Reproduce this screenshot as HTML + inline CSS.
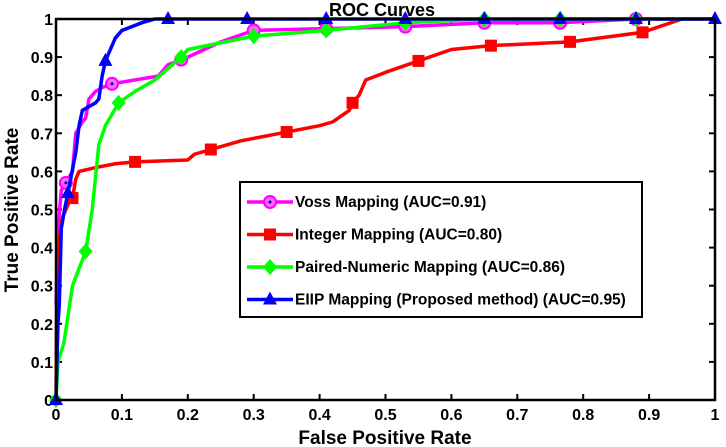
<!DOCTYPE html>
<html><head><meta charset="utf-8"><style>
body{margin:0;background:#fff;}
svg{display:block;font-family:"Liberation Sans",Arial,sans-serif;font-weight:bold;}
</style></head><body>
<svg id="chart" width="726" height="447" viewBox="0 0 726 447"></svg>
<script>
const xTicks=[0,0.1,0.2,0.3,0.4,0.5,0.6,0.7,0.8,0.9,1];
const yTicks=[0,0.1,0.2,0.3,0.4,0.5,0.6,0.7,0.8,0.9,1];
const tickLabels=["0","0.1","0.2","0.3","0.4","0.5","0.6","0.7","0.8","0.9","1"];
const vossX=[0,0.003,0.008,0.015,0.025,0.03,0.04,0.045,0.05,0.06,0.07,0.085,0.12,0.155,0.17,0.2,0.25,0.3,0.53,0.65,0.765,0.88,1];
const vossY=[0.25,0.45,0.55,0.57,0.6,0.7,0.73,0.74,0.79,0.81,0.82,0.83,0.84,0.85,0.88,0.9,0.94,0.97,0.98,0.99,0.99,1,1];
const vossM=[0.015,0.085,0.19,0.3,0.41,0.53,0.65,0.765,0.88];
const intX=[0,0.001,0.003,0.01,0.02,0.025,0.03,0.035,0.06,0.09,0.12,0.2,0.21,0.24,0.28,0.34,0.4,0.42,0.445,0.45,0.46,0.47,0.5,0.55,0.6,0.66,0.78,0.89,0.95,1];
const intY=[0,0.25,0.4,0.48,0.52,0.53,0.58,0.6,0.61,0.62,0.625,0.63,0.645,0.66,0.68,0.7,0.72,0.73,0.76,0.78,0.8,0.84,0.86,0.89,0.92,0.93,0.94,0.965,1,1];
const intM=[0.025,0.12,0.235,0.35,0.45,0.55,0.66,0.78,0.89];
const pnX=[0,0.003,0.012,0.025,0.045,0.055,0.065,0.075,0.095,0.12,0.15,0.17,0.19,0.2,0.3,0.41,0.53,0.65,1];
const pnY=[0,0.1,0.15,0.3,0.39,0.5,0.67,0.72,0.78,0.81,0.84,0.87,0.9,0.92,0.955,0.97,0.99,1,1];
const pnM=[0,0.045,0.095,0.19,0.3,0.41,0.53,0.65,0.765,0.88];
const eiX=[0,0.003,0.005,0.008,0.013,0.02,0.03,0.035,0.04,0.06,0.065,0.07,0.075,0.09,0.1,0.13,0.15,1];
const eiY=[0,0.2,0.25,0.45,0.5,0.56,0.65,0.72,0.76,0.78,0.79,0.85,0.89,0.95,0.97,0.99,1,1];
const eiM=[0,0.018,0.075,0.17,0.29,0.41,0.53,0.65,0.765,0.88,1];

const X0=56,X1=715,Y0=400,Y1=19;
const sx=v=>X0+(X1-X0)*v, sy=v=>Y0-(Y0-Y1)*v;
const svg=document.getElementById('chart');
const NS='http://www.w3.org/2000/svg';
function mk(t,a,p){const e=document.createElementNS(NS,t);for(const k in a)e.setAttribute(k,a[k]);(p||svg).appendChild(e);return e;}
function interp(xs,ys,x){for(let i=1;i<xs.length;i++){if(x<=xs[i]){const t=(x-xs[i-1])/((xs[i]-xs[i-1])||1);return ys[i-1]+t*(ys[i]-ys[i-1]);}}return ys[ys.length-1];}

xTicks.forEach((v,i)=>{
 const t1=mk('line',{x1:sx(v),x2:sx(v),y1:Y0,y2:Y0-6,stroke:'#000','stroke-width':2});
 
 mk('line',{x1:sx(v),x2:sx(v),y1:Y1,y2:Y1+6,stroke:'#000','stroke-width':2});
 const l=mk('text',{x:sx(v),y:420,'text-anchor':'middle','font-size':16});
 
 l.textContent=tickLabels[i];
});
yTicks.forEach((v,i)=>{
 const t1=mk('line',{x1:X0,x2:X0+6,y1:sy(v),y2:sy(v),stroke:'#000','stroke-width':2});
 
 mk('line',{x1:X1,x2:X1-6,y1:sy(v),y2:sy(v),stroke:'#000','stroke-width':2});
 const l=mk('text',{x:X0-3,y:sy(v)+6,'text-anchor':'end','font-size':16});
 
 l.textContent=tickLabels[i];
});

const series=[
 {name:'voss',x:vossX,y:vossY,m:vossM,c:'#ff00ff',mk:'circle'},
 {name:'integer',x:intX,y:intY,m:intM,c:'#ff0000',mk:'square'},
 {name:'paired-numeric',x:pnX,y:pnY,m:pnM,c:'#00ff00',mk:'diamond'},
 {name:'eiip',x:eiX,y:eiY,m:eiM,c:'#0000ff',mk:'triangle'}];
function marker(type,cx,cy,c,name){
 let e;
 if(type==='circle'){e=mk('circle',{cx,cy,r:6,fill:'#ff66ff',stroke:c,'stroke-width':2});mk('circle',{cx,cy,r:1.5,fill:'#0000aa'});}
 else if(type==='square')e=mk('rect',{x:cx-6,y:cy-6,width:12,height:12,fill:c});
 else if(type==='diamond')e=mk('polygon',{points:`${cx},${cy-8} ${cx+7},${cy} ${cx},${cy+8} ${cx-7},${cy}`,fill:c});
 else e=mk('polygon',{points:`${cx},${cy-8} ${cx+7},${cy+5} ${cx-7},${cy+5}`,fill:c});
 
}
series.forEach(s=>{
 const p=mk('polyline',{points:s.x.map((v,i)=>sx(v)+','+sy(s.y[i])).join(' '),fill:'none',stroke:s.c,'stroke-width':3.5,'stroke-linejoin':'round'});
 
 s.m.forEach(v=>marker(s.mk,sx(v),sy(interp(s.x,s.y,v)),s.c,s.name));
});

const box=mk('rect',{x:X0,y:Y1,width:X1-X0,height:Y0-Y1,fill:'none',stroke:'#000','stroke-width':2.5});


const title=mk('text',{x:382,y:16,'text-anchor':'middle','font-size':18});

title.textContent='ROC Curves';
const xl=mk('text',{x:385,y:444,'text-anchor':'middle','font-size':19});

xl.textContent='False Positive Rate';
const yl=mk('text',{x:0,y:0,'text-anchor':'middle','font-size':19,transform:'translate(18,210) rotate(-90)'});

yl.textContent='True Positive Rate';

const lg=mk('g',{});

mk('rect',{x:240,y:182,width:402,height:135,fill:'#fff',stroke:'#000','stroke-width':2},lg);
const labels=['Voss Mapping (AUC=0.91)','Integer Mapping (AUC=0.80)','Paired-Numeric Mapping (AUC=0.86)','EIIP Mapping (Proposed method) (AUC=0.95)'];
series.forEach((s,i)=>{
 const y=202+i*32.5;
 const ln=mk('line',{x1:247,x2:293,y1:y,y2:y,stroke:s.c,'stroke-width':3.5},lg);
 
 marker(s.mk,270,y,s.c,'legend-'+s.name);
 const t=mk('text',{x:295,y:y+5,'font-size':15.5},lg);
 
 t.textContent=labels[i];
});
</script>
</body></html>
